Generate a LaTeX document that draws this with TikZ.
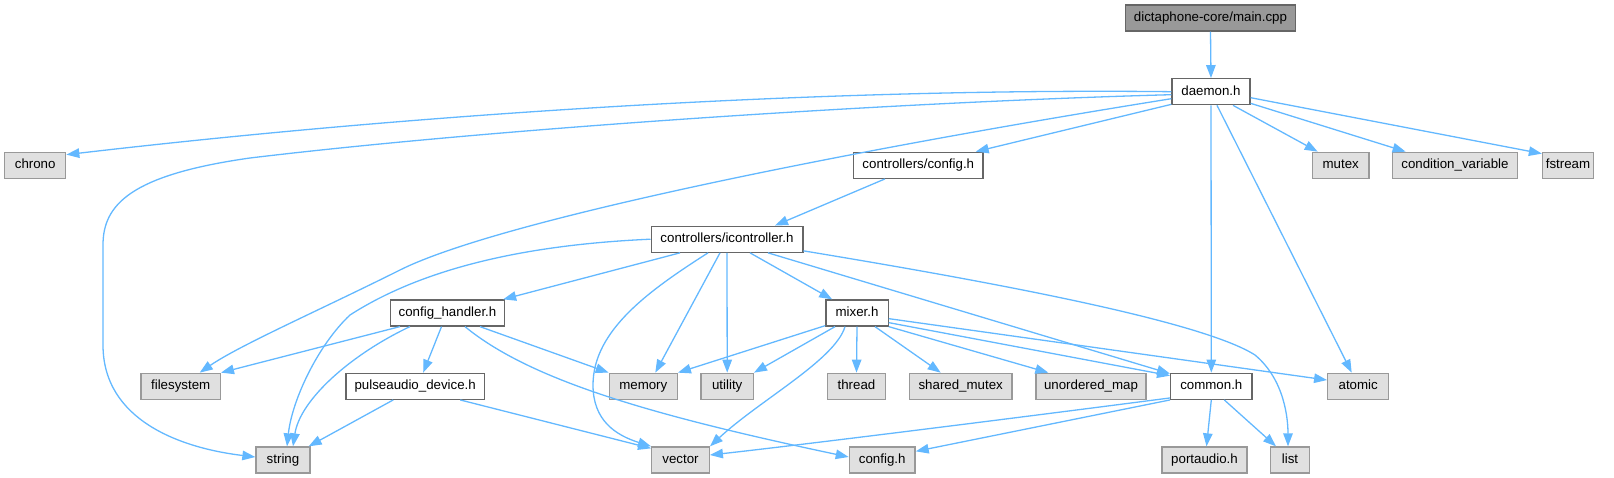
\documentclass[tikz,border=0pt]{standalone}
\usepackage{fontspec}
\setmainfont{Liberation Sans}
\usetikzlibrary{arrows.meta}
\definecolor{arrowc}{HTML}{63B8FF}
\definecolor{bdark}{HTML}{666666}
\definecolor{blight}{HTML}{999999}
\definecolor{sysfill}{HTML}{E0E0E0}
\definecolor{topfill}{HTML}{999999}
\tikzset{
  basebox/.style={rectangle, draw, line width=1.3pt, minimum height=26pt, inner sep=0pt,
    text height=9.5pt, text depth=2.8pt, font=\fontsize{13.3}{16}\selectfont},
  hdr/.style={basebox, fill=white, draw=bdark},
  sys/.style={basebox, fill=sysfill, draw=blight},
  topnode/.style={basebox, fill=topfill, draw=bdark},
  dep/.style={draw=arrowc, line width=1.3pt, -{Triangle[length=13pt,width=9.5pt]}}
}
\begin{document}
\begin{tikzpicture}[x=1pt,y=-1pt]
\useasboundingbox (0,0) rectangle (1614,478);
% row 0
\node[topnode, minimum width=170pt] (main) at (1210.5,18) {dictaphone-core/main.cpp};
% row 1
\node[hdr, minimum width=78pt] (daemon) at (1211,91.7) {daemon.h};
% row 2
\node[sys, minimum width=61pt] (chrono) at (35.2,165.3) {chrono};
\node[hdr, minimum width=129.5pt] (ccfg) at (918.3,165.3) {controllers/config.h};
\node[sys, minimum width=56.5pt] (mutex) at (1340.7,165.3) {mutex};
\node[sys, minimum width=125.5pt] (condvar) at (1455,165.3) {condition\_variable};
\node[sys, minimum width=51pt] (fstream) at (1568,165.3) {fstream};
% row 3
\node[hdr, minimum width=151.7pt] (icontroller) at (727,239.2) {controllers/icontroller.h};
% row 4
\node[hdr, minimum width=114pt] (cfgh) at (447.5,313) {config\_handler.h};
\node[hdr, minimum width=62.3pt] (mixer) at (857,313) {mixer.h};
% row 5
\node[sys, minimum width=79.3pt] (filesystem) at (180.7,386.3) {filesystem};
\node[hdr, minimum width=138.5pt] (pulse) at (415.2,386.3) {pulseaudio\_device.h};
\node[sys, minimum width=68pt] (memory) at (643.3,386.3) {memory};
\node[sys, minimum width=52.3pt] (utility) at (727.2,386.3) {utility};
\node[sys, minimum width=57.6pt] (thread) at (856.5,386.3) {thread};
\node[sys, minimum width=102.5pt] (shmutex) at (960.7,386.3) {shared\_mutex};
\node[sys, minimum width=110pt] (umap) at (1091,386.3) {unordered\_map};
\node[hdr, minimum width=81.3pt] (common) at (1211.3,386.3) {common.h};
\node[sys, minimum width=61pt] (atomic) at (1358.2,386.3) {atomic};
% row 6
\node[sys, minimum width=54pt] (string) at (283,460) {string};
\node[sys, minimum width=57.6pt] (vector) at (680.5,460) {vector};
\node[sys, minimum width=65.7pt] (confh) at (882.2,460) {config.h};
\node[sys, minimum width=85pt] (portaudio) at (1204.5,460) {portaudio.h};
\node[sys, minimum width=38.6pt] (list) at (1290,460) {list};

% main
\draw[dep] (main.south) -- (daemon.north);
% daemon
\draw[dep] (daemon.west) .. controls (850,88) and (450,110) .. ([yshift=-3pt]chrono.north east);
\draw[dep] ([yshift=-3pt]daemon.west) .. controls (900,102) and (500,128) .. (250,158)
   .. controls (130,175) and (103,205) .. (103,245) -- (103,345)
   .. controls (103,420) and (180,448) .. ([yshift=3pt]string.west);
\draw[dep] ([yshift=-7pt]daemon.west) .. controls (850,150) and (500,220) .. (400,270)
   .. controls (320,310) and (240,345) .. ([xshift=19pt]filesystem.north);
\draw[dep] ([yshift=1pt]daemon.south west) -- ([xshift=-8pt]ccfg.north east);
\draw[dep] ([xshift=22pt]daemon.south) -- ([xshift=-23pt]mutex.north);
\draw[dep] ([yshift=2pt]daemon.south east) -- ([xshift=14pt]condvar.north west);
\draw[dep] ([yshift=-6pt]daemon.east) -- ([yshift=-2pt]fstream.north west);
\draw[dep] (daemon.south) -- (common.north);
\draw[dep] ([xshift=6pt]daemon.south) -- ([xshift=-6.5pt]atomic.north);
% controllers/config.h
\draw[dep] ([xshift=32pt]ccfg.south west) -- ([xshift=48pt]icontroller.north);
% icontroller
\draw[dep] (icontroller.west) .. controls (520,245) and (420,270) .. (350,315)
   .. controls (318,345) and (292,400) .. ([xshift=4pt]string.north);
\draw[dep] ([xshift=-47pt]icontroller.south) -- ([xshift=-2pt]cfgh.north east);
\draw[dep] ([xshift=-19pt]icontroller.south) .. controls (650,290) and (593,330) .. (593,385)
   .. controls (593,420) and (615,435) .. (vector.north west);
\draw[dep] ([xshift=-7pt]icontroller.south) -- ([xshift=12pt]memory.north);
\draw[dep] (icontroller.south) -- (utility.north);
\draw[dep] ([xshift=23pt]icontroller.south) -- ([xshift=7pt]mixer.north west);
\draw[dep] ([xshift=41pt]icontroller.south) -- ([yshift=-1pt]common.north west);
\draw[dep] ([yshift=2pt]icontroller.south east) .. controls (980,280) and (1200,320) .. (1255,355)
   .. controls (1285,380) and (1288,420) .. ([xshift=-2pt]list.north);
% config_handler.h
\draw[dep] ([xshift=10pt]cfgh.south west) -- (filesystem.north east);
\draw[dep] ([xshift=20pt]cfgh.south west) .. controls (350,355) and (300,400) .. ([xshift=10pt]string.north);
\draw[dep] ([xshift=-6pt]cfgh.south) -- ([xshift=8pt]pulse.north);
\draw[dep] ([xshift=17.5pt]cfgh.south) .. controls (530,380) and (650,415) .. ([yshift=3pt]confh.west);
\draw[dep] ([xshift=32.5pt]cfgh.south) -- (memory.north west);
% pulseaudio_device.h
\draw[dep] ([xshift=-22pt]pulse.south) -- ([xshift=-2pt]string.north east);
\draw[dep] ([xshift=45pt]pulse.south) -- ([yshift=-2pt]vector.north west);
% mixer.h
\draw[dep] ([yshift=1pt]mixer.south west) -- (memory.north east);
\draw[dep] ([xshift=-22pt]mixer.south) -- (utility.north east);
\draw[dep] ([xshift=-12pt]mixer.south) .. controls (835,360) and (760,400) .. (vector.north east);
\draw[dep] (mixer.south) -- (thread.north);
\draw[dep] ([xshift=18pt]mixer.south) -- ([xshift=-20pt]shmutex.north);
\draw[dep] (mixer.south east) -- ([xshift=13pt]umap.north west);
\draw[dep] ([yshift=4pt]mixer.south east) -- ([yshift=-3pt]common.north west);
\draw[dep] ([yshift=8pt]mixer.south east) -- ([yshift=-7.4pt]atomic.north west);
% common.h
\draw[dep] ([yshift=2pt]common.south west) .. controls (1000,420) and (800,445) .. ([yshift=5pt]vector.east);
\draw[dep] (common.south west) -- ([yshift=-5pt]confh.north east);
\draw[dep] (common.south) -- ([xshift=2pt]portaudio.north);
\draw[dep] ([xshift=13pt]common.south) -- ([xshift=-14pt]list.north);
\end{tikzpicture}
\end{document}
